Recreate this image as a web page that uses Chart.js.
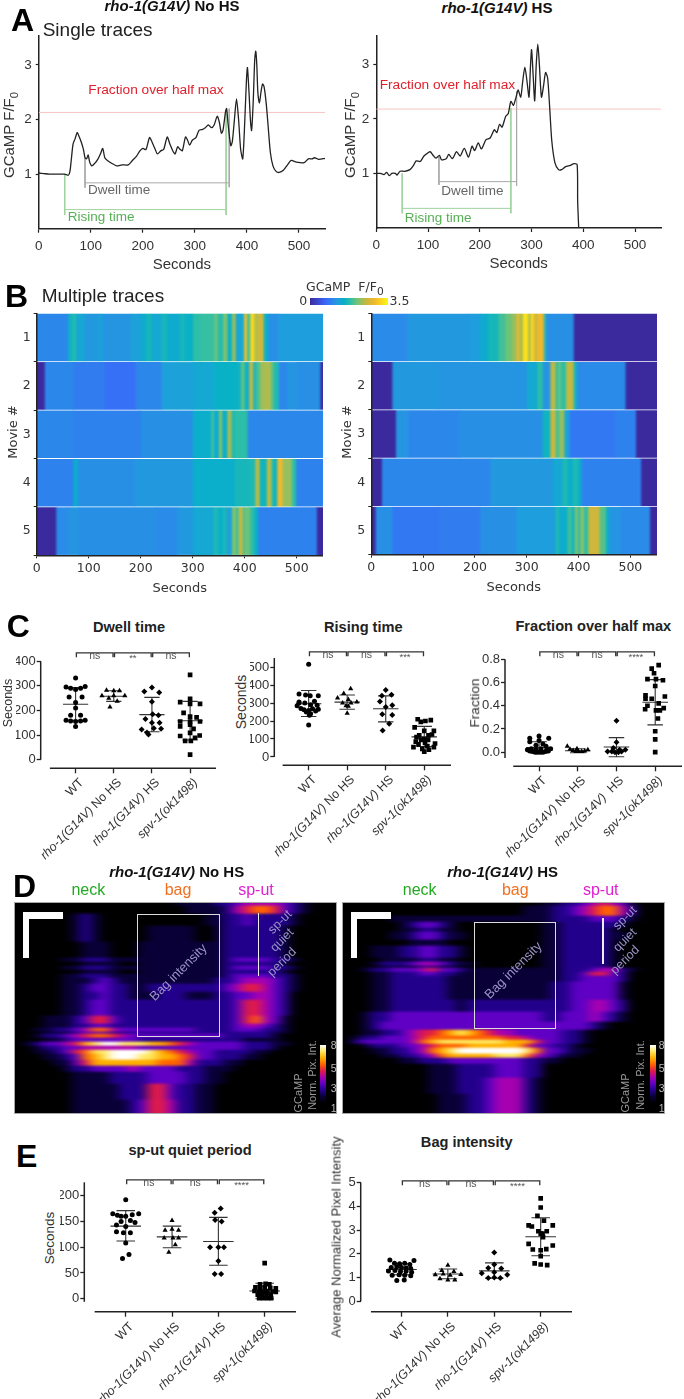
<!DOCTYPE html>
<html>
<head>
<meta charset="utf-8">
<script src="https://cdn.jsdelivr.net/npm/chart.js"></script>
<style>
  html, body { margin: 0; background: #fff; }
  #page { position: relative; width: 684px; height: 1399px; overflow: hidden; background: #fff; }
  canvas { position: absolute; }
  .box { position: absolute; box-sizing: border-box; }
</style>
</head>
<body>
<svg width="0" height="0" style="position:absolute">
  <filter id="soft" x="-5%" y="-5%" width="110%" height="110%" color-interpolation-filters="sRGB">
    <feGaussianBlur stdDeviation="5.5 1.3"/>
  </filter>
  <filter id="softRow" x="0" y="0" width="100%" height="100%" color-interpolation-filters="sRGB">
    <feGaussianBlur stdDeviation="1.3 0"/>
  </filter>
</svg>
<div id="page"></div>
<script>
// ---- panel A: single traces
const traceSecsA = [0,10,20,30,40,50,57,60,63,66,70,74,78,82,86,89,92,95,98,102,108,114,119,123,127,132,140,150,160,172,180,188,194,200,206,213,218,224,228,235,240,247,252,258,262,267,272,276,282,286,290,295,302,308,315,320,326,332,337,343,347,351,354,359,361,364,369,372,376,380,384,388,392,396,399,401,404,407,409,412,415,417,419,421,424,427,430,433,437,441,445,450,456,462,470,478,485,495,510,518,525,530,538,550];
const traceValsA = [1.02,1.01,1,1,1,1,.98,1.05,1.3,1.55,1.65,1.76,1.68,1.58,1.45,1.3,1.28,1.35,1.22,1.15,1.2,1.28,1.38,1.47,1.3,1.25,1.2,1.15,1.17,1.17,1.25,1.33,1.42,1.47,1.45,1.67,1.58,1.45,1.37,1.43,1.45,1.68,1.55,1.42,1.37,1.5,1.45,1.43,1.68,1.62,1.53,1.62,1.67,1.8,1.82,1.85,1.9,1.85,1.9,2.06,1.95,1.75,1.8,2.15,2.2,1.9,1.52,1.6,2,2.38,2,1.45,1.28,2,2.7,2.95,2.5,1.95,1.8,2.3,3.1,3.25,3,2.5,2.3,2.5,2.65,2.6,2.3,1.85,1.4,1.15,1.05,1.03,1.07,1.17,1.25,1.22,1.21,1.28,1.28,1.3,1.27,1.29];
const traceSecsB = [0,8,15,20,25,30,37,40,46,55,65,72,77,85,92,100,104,110,115,122,126,135,140,147,155,162,170,178,185,190,197,203,212,220,228,233,238,243,250,255,260,265,270,274,279,283,287,291,295,298,300,303,306,309,312,315,319,323,327,331,335,339,345,352,358,365,375,382,388,389,391];
const traceValsB = [1,1,.98,1.02,.96,1,1,.97,1.04,1.04,1.07,1.15,1.23,1.22,1.32,1.38,1.4,1.33,1.28,1.33,1.25,1.27,1.35,1.27,1.4,1.32,1.46,1.3,1.5,1.42,1.56,1.45,1.62,1.65,1.8,1.75,1.9,1.85,2.05,2.1,2.32,2.25,2.4,2.53,2.4,2.7,2.95,2.7,2.4,3,3.27,2.8,2.33,3,3.37,3,2.4,2.6,2.85,2.75,2.2,1.6,1.2,1.07,1.07,1.12,1.15,1.18,1.16,.5,0];
const secondTicks = [0,100,200,300,400,500];
const traceTicks = [1,2,3];
const halfMaxA = 2.13, halfMaxB = 2.18;
const dwellXA = [89,89,null,89,366,null,366,366], dwellYA = [1.3,.75,null,.84,.84,null,2.2,.76];
const riseXA = [50,50,null,50,360,null,360,360], riseYA = [1,.25,null,.35,.35,null,2.15,.25];
const dwellXB = [121,121,null,121,271,null,271,271], dwellYB = [1.3,.79,null,.85,.85,null,2.5,.77];
const riseXB = [50,50,null,50,260,null,260,260], riseYB = [1,.27,null,.36,.36,null,2.2,.27];

// ---- panel B: multiple traces, each movie is segment starts + F/F0 values
const movieLabels = ['1','2','3','4','5'];
const leftStarts1 = [0,60,68,75,90,120,125,180,200,210,220,240,250,275,285,300,315,340,348,358,366,375,382,392,398,404,410,418,424,436,445,465];
const leftVals1 = [1,1.6,1.75,1.4,1.2,1.4,1.15,1.3,1.45,1.65,1.4,1.65,1.45,1.65,1.55,1.8,1.85,2.05,1.75,2.2,1.55,2.35,1.35,1.4,2.95,1.85,3.2,2.4,2.6,1.5,1.1,1.25];
const leftStarts2 = [0,15,70,130,190,240,270,300,340,385,392,400,408,416,420,428,435,450,456,465,480,500,545];
const leftVals2 = [0,1,.9,.78,1,1.3,1.3,1.4,1.55,1.6,2,1.5,2.5,1.5,1.9,2.3,2.4,2,1.7,1,1.15,1.1,0];
const leftStarts3 = [0,70,200,300,335,340,350,356,366,374,380,405];
const leftVals3 = [1,.95,1.1,1.5,1.9,1.45,2.2,1.5,2.4,1.7,1.8,1];
const leftStarts4 = [0,70,78,190,300,380,408,420,428,442,450,453,462,472,490,498];
const leftVals4 = [.95,1.5,1.1,1.2,1.5,1.65,1.7,2.5,1.6,2.5,2,1.6,2.9,2.3,1.8,.95];
const leftStarts5 = [0,37,60,80,230,270,300,340,348,358,364,375,382,388,395,400,410,418,425,538];
const leftVals5 = [0,1.05,1.15,1.1,1.05,1.2,1.4,1.7,1.55,1.7,1.3,2.2,1.9,2.6,2,2.1,1.8,1.5,.95,0];
const rightStarts1 = [0,70,190,210,225,245,258,270,280,285,292,302,307,313,320,332,336,390];
const rightVals1 = [1.05,1.2,1.25,1.45,1.65,1.9,2.1,2.3,2.9,2.4,3.3,2.4,3.2,2.6,2.9,1.8,1.1,0];
const rightStarts2 = [0,40,130,300,320,330,345,355,360,365,375,390,396,490];
const rightVals2 = [0,1.2,1.15,1.4,1.8,1.15,2.5,1.8,2.1,1.8,2.5,1.6,1.05,0];
const rightStarts3 = [0,47,70,170,330,345,355,362,372,382,470,510];
const rightVals3 = [0,1.15,1,1.1,1.6,2.6,1.9,2.3,1.3,.85,.95,0];
const rightStarts4 = [0,20,230,350,368,378,388,398,405,520];
const rightVals4 = [0,1,1.2,1.4,1.7,1.5,1.7,1.5,.95,0];
const rightStarts5 = [0,8,40,130,210,280,355,362,370,378,386,392,398,402,410,418,440,452,458,480,537];
const rightVals5 = [0,1.1,.85,.9,1.1,1.25,1.7,1.45,1.5,1.9,1.6,2.2,1.7,2.2,1.8,2.6,2,1.5,1.15,1.05,0];

// ---- panel C: scatter with mean and SD
const groupNames = ['WT','rho-1(G14V) No HS','rho-1(G14V) HS','spv-1(ok1498)'];
const groupNames3 = ['WT','rho-1(G14V) No HS','rho-1(G14V)  HS','spv-1(ok1498)'];
const dwellX1 = [0,-.25,-.13,0,.13,.25,-.17,.17,0,0,-.13,.13,-.25,-.13,0,.13,.25,0];
const dwellY1 = [332,295,290,285,290,297,255,255,232,210,180,180,160,157,155,157,160,135];
const dwellX2 = [-.19,0,.15,-.31,.29,0,-.13,.09,-.1];
const dwellY2 = [282,280,280,260,260,260,250,237,214];
const dwellX3 = [0,-.2,.19,0,.02,.17,-.17,0,.2,-.27,-.13,.05,.24,-.09];
const dwellY3 = [293,277,273,235,185,180,165,150,150,122,110,128,125,102];
const dwellX4 = [0,0,-.26,.26,0,-.17,0,.17,-.26,0,.26,0,.09,-.26,0,-.26,.25,-.13,.02,.13,0];
const dwellY4 = [345,247,234,227,227,190,175,172,155,155,155,142,125,135,109,96,98,76,76,89,20];
const dwellMeans = [225,258,183,158], dwellLows = [160,237,113,80], dwellHighs = [293,280,253,237];
const riseX1 = [0,-.25,-.08,.04,.25,-.25,.15,-.1,.05,.22,-.3,-.2,.1,.25,-.12,0,.18,-.06,.05,.02,0,-.25];
const riseY1 = [515,350,345,340,340,305,310,300,290,288,285,270,268,265,262,258,255,250,240,232,178,300];
const riseX2 = [.09,-.09,-.25,.03,.25,-.12,.1,-.03,.03,0];
const riseY2 = [380,353,328,320,305,300,300,285,282,243];
const riseX3 = [0,-.1,.15,-.15,.17,0,-.09,.17,.09,-.08];
const riseY3 = [373,340,346,308,287,278,238,233,185,147];
const riseX4 = [-.17,-.09,.17,.03,-.25,0,.25,-.13,.11,-.2,0,.2,-.08,.1,-.22,.02,.28,-.15,.08,-.28,.25,-.05,.12,0];
const riseY4 = [210,195,205,200,165,145,145,120,120,110,100,125,95,95,85,80,75,70,60,55,55,45,40,30];
const riseMeans = [296,305,268,112], riseLows = [225,265,195,58], riseHighs = [370,345,340,170];
const fracX1 = [0,-.24,.25,-.08,.1,0,-.24,.18,-.3,-.24,-.17,-.1,-.04,.03,.1,.17,.24,.3,-.2,-.08,.05,.2];
const fracY1 = [.14,.12,.12,.06,.07,.1,.09,.05,.02,.01,.005,0,0,0,0,.005,.01,.03,.03,.02,.03,.02];
const fracX2 = [-.27,-.2,-.12,-.05,.02,.1,.18,.26,-.02];
const fracY2 = [.05,.025,.015,.005,.005,.005,.01,.02,.03];
const fracX3 = [0,0,-.08,.08,-.23,-.12,-.04,.05,.13,.23];
const fracY3 = [.27,.085,.035,.02,.005,.005,0,0,.005,.02];
const fracX4 = [.09,-.09,-.03,-.2,.02,.2,0,-.25,.25,-.25,-.09,.09,-.2,.22,-.26,.02,.12,.07,0,0,0];
const fracY4 = [.75,.72,.68,.63,.63,.62,.57,.49,.48,.46,.46,.42,.4,.38,.37,.36,.36,.29,.18,.11,0];
const fracMeans = [.04,.012,.045,.43], fracLows = [0,-.005,-.04,.235], fracHighs = [.09,.03,.125,.625];

// ---- panel E
const quietX1 = [0,-.28,-.18,-.1,0,.14,.28,-.1,.1,.2,-.2,0,-.2,-.05,.1,0,.07,-.07];
const quietY1 = [192,165,162,160,160,163,165,150,152,148,143,140,130,128,128,108,86,78];
const quietX2 = [0,-.15,0,.14,-.17,.02,.14,.07,-.07];
const quietY2 = [152,133,135,133,118,118,118,105,90];
const quietX3 = [.05,-.08,-.07,.07,-.18,0,.12,0,-.08,.06];
const quietY3 = [175,167,153,150,100,100,100,73,48,48];
const quietX4 = [0,-.1,.02,.1,-.2,-.1,0,.12,.24,-.22,-.12,-.03,.06,.17,.24,-.15,-.06,.04,.13,-.12,-.03,.06,.14];
const quietY4 = [69,28,29,28,22,21,22,21,20,15,14,14,15,14,13,8,8,8,8,1,1,1,1];
const quietMeans = [141,120,111,15], quietLows = [112,99,65,0], quietHighs = [171,141,158,30];
const bagX1 = [-.25,.27,-.15,-.04,.07,.18,-.22,-.1,0,.1,.2,-.28,-.14,-.02,.1,.22,-.2,-.05,.07,.2,-.1,.06];
const bagY1 = [1.74,1.72,1.6,1.58,1.6,1.55,1.42,1.45,1.42,1.4,1.38,1.28,1.3,1.25,1.27,1.22,1.1,1.12,1.1,1.08,.88,.9];
const bagX2 = [0,-.13,.13,-.27,-.1,.05,.28,-.17,0,.15];
const bagY2 = [1.52,1.3,1.25,1.12,1.15,1.1,1.13,.95,.9,.9];
const bagX3 = [0,0,-.13,.15,-.27,0,.28,-.13,0,.13];
const bagY3 = [2.05,1.55,1.4,1.38,1.18,1.22,1.12,.98,1,.98];
const bagX4 = [0,0,-.07,.07,-.26,-.19,.26,-.05,.04,.13,0,.05,-.26,.26,-.17,0,.12,0,-.13,0,.14];
const bagY4 = [4.33,3.95,3.6,3.4,3.2,3.15,3.2,2.95,2.85,2.95,2.85,2.7,2.42,2.35,2.18,2.15,2.2,1.9,1.6,1.55,1.52];
const bagMeans = [1.34,1.15,1.28,2.72], bagLows = [1.12,.95,.97,1.92], bagHighs = [1.58,1.36,1.62,3.52];

// ---- panel D: kymographs, pixel level per column; each row is repeated rowRepeat times
const kymoLeftRepeat = [5,4,6,8,8,2,2,2,2,2,3,4,4,8,4,2,2,1,2,2,2,2,2,3,3,3,6,8,10];
const kymoLeft = [
[0,0,0,0,0,0,0,0,0,0,0,0,0,0,0,0,0,1,1,1,1,2,2,3,4,4,4,4,3,2,1],
[0,0,0,0,0,0,0,0,0,0,0,0,0,0,0,0,0,0,1,1,1,1,2,4,5,6,6,5,3,2,1],
[0,0,0,0,0,0,1,2,1,0,0,0,0,0,0,0,0,0,0,0,1,1,2,2,3,2,2,2,2,1],
[0,0,0,0,0,0,1,2,1,0,0,0,0,0,1,1,1,1,1,0,0,1,2,2,2,2,2,2,1],
[0,0,0,0,0,0,0,1,1,1,0,0,0,1,1,1,1,1,1,1,1,1,2,2,2,2,2,2,1],
[0,0,0,0,0,1,1,2,2,2,1,1,1,1,1,1,1,1,1,1,1,1,2,3,3,3,3,2,2,1],
[0,0,0,0,0,0,0,1,1,1,1,0,0,1,1,1,1,1,1,1,1,1,2,2,2,2,2,2,1],
[0,0,0,0,0,1,1,2,2,2,1,1,1,1,1,1,1,1,1,1,1,1,2,3,3,3,3,2,2,1],
[0,0,0,0,0,0,0,1,1,1,1,0,0,1,1,1,1,1,1,1,1,1,2,2,2,2,2,2,1],
[0,0,0,0,0,1,1,2,2,2,1,1,1,1,1,1,1,1,1,1,1,1,2,3,3,3,3,2,2,1],
[0,0,0,0,0,1,1,1,2,3,2,1,1,1,1,1,1,1,1,1,1,2,2,3,4,4,4,3,2,1],
[0,0,0,0,0,1,1,2,3,3,2,2,1,1,2,2,2,2,2,2,2,2,3,4,5,5,4,3,2,1],
[0,0,0,0,0,1,1,2,2,3,2,2,1,1,1,2,2,2,1,1,1,2,2,3,3,4,4,3,2],
[0,0,0,0,0,1,1,2,3,3,2,2,2,2,2,2,2,2,2,2,2,2,2,3,5,5,4,3,2],
[0,0,0,1,1,1,2,3,5,5,3,2,2,2,2,2,2,2,2,2,2,2,2,3,5,6,4,3,1],
[0,0,0,1,1,1,2,2,3,3,2,2,2,2,2,2,2,2,2,2,2,2,2,3,4,4,3,2,1],
[0,0,1,1,2,2,3,4,6,6,4,3,3,3,3,3,3,3,3,2,2,2,2,3,3,3,2,2,1],
[0,0,0,1,1,1,2,3,3,3,2,2,2,2,2,2,2,2,2,2,2,2,2,2,2,2,2,1,1],
[0,0,1,2,2,3,4,5,6,6,5,4,3,3,3,3,3,3,3,3,3,3,2,2,2,2,2,1],
[0,0,0,1,1,2,3,3,3,3,3,3,3,2,2,2,2,2,2,2,2,2,2,2,1,1,1,1],
[0,1,2,3,3,4,5,7,8,9,9,8,8,8,7,7,6,5,4,3,3,3,3,3,2,2,2,1,1],
[0,0,1,2,2,3,3,4,4,4,4,4,4,3,3,3,3,3,3,3,3,3,3,3,2,2,2,1],
[0,0,1,1,2,3,5,6,8,8,9,9,9,9,8,7,6,5,4,3,3,2,2,2,2,1,1],
[0,0,0,1,1,2,3,6,7,8,9,9,9,8,8,7,7,6,5,3,3,2,2,2,1,1],
[0,0,0,0,1,1,3,5,7,7,7,7,7,7,7,6,6,6,4,2,2,2,1,1],
[0,0,0,0,0,1,2,2,3,3,3,3,4,3,3,3,3,2,2,2,1,1,1],
[0,0,0,0,0,0,1,1,1,1,2,2,2,2,3,3,3,3,2,2,1,1],
[0,0,0,0,0,0,1,1,1,1,1,2,2,2,5,5,3,2,2,1,1],
[0,0,0,0,0,0,1,1,1,1,1,1,2,3,5,5,4,2,2,1,1]
];
const kymoRightRepeat = [5,5,3,3,2,4,3,6,2,2,1,2,2,3,9,6,5,4,3,2,2,2,3,2,3,7,8,13];
const kymoRight = [
[0,0,0,0,0,0,0,0,0,0,0,0,0,0,0,0,0,0,0,0,0,1,1,2,2,3,4,5,4,3,1],
[0,0,0,0,0,0,0,0,0,0,0,0,0,0,0,0,0,0,0,1,1,1,2,2,3,4,5,6,6,4,2],
[0,0,0,0,0,1,1,1,1,1,1,1,1,1,1,1,1,1,1,1,1,1,2,2,2,2,3,3,3,2,1],
[0,0,0,0,0,0,1,2,3,3,2,1,0,0,0,0,0,0,0,0,0,1,1,2,2,2,2,2,2,1],
[0,0,0,0,0,0,1,1,2,2,1,1,0,0,0,0,0,0,0,0,0,1,1,2,2,2,2,2,1],
[0,0,0,0,0,1,1,2,3,3,2,1,1,0,0,0,0,0,0,0,0,1,1,2,2,2,2,2,1,1],
[0,0,0,0,0,0,0,1,1,1,1,0,0,0,0,0,0,0,0,0,0,1,1,2,2,2,2,2,1],
[0,0,0,1,1,1,2,2,3,3,2,2,1,0,0,0,0,0,0,0,0,1,1,2,2,2,2,2,1],
[0,0,0,0,1,1,1,1,2,2,1,1,0,0,0,0,0,0,0,0,0,1,1,2,2,2,2,2,1],
[0,0,0,1,2,2,2,3,4,4,3,2,1,1,0,0,0,0,0,0,0,1,1,2,2,2,2,2,1],
[0,0,0,0,1,1,1,1,2,2,1,1,0,0,0,0,0,0,0,0,0,1,1,2,2,2,2,2,1],
[0,0,1,2,2,3,3,3,4,5,3,3,2,1,1,1,1,1,1,1,1,1,1,2,2,2,3,4,4,2,1],
[0,0,0,1,1,2,2,2,3,3,2,2,1,1,1,1,1,1,1,1,1,1,1,2,2,3,5,5,3,2],
[0,0,0,1,1,2,2,2,2,2,2,1,1,1,1,1,1,1,1,1,1,1,1,2,2,3,3,3,3,2],
[0,0,0,1,1,2,2,2,2,2,2,1,1,1,1,1,1,1,1,1,1,1,2,2,3,3,3,3,3,1],
[0,0,0,1,1,2,2,2,2,2,2,2,1,2,2,2,2,2,2,2,2,2,2,2,3,3,4,4,3,2],
[0,0,1,2,2,3,3,3,3,3,3,3,3,3,3,3,3,3,3,3,3,2,2,3,3,3,4,3,2,1],
[0,0,1,2,3,3,3,3,3,3,3,3,3,3,3,3,3,3,3,3,3,3,3,3,3,3,2,1],
[0,0,1,1,2,2,3,4,5,5,6,7,8,7,6,5,4,4,3,3,3,3,3,2,2,1],
[0,1,2,2,3,3,3,4,5,6,6,6,6,6,6,6,6,5,5,4,3,3,3,2,2,1],
[0,2,3,3,3,3,3,4,6,7,8,8,8,8,8,8,8,7,7,7,5,3,3,2,2,1],
[0,0,1,2,2,2,3,3,4,5,6,6,6,7,7,7,7,7,7,5,3,3,2,2,1],
[0,0,0,1,1,2,2,3,4,6,7,8,9,9,9,9,9,9,9,8,6,3,3,2,1,1],
[0,0,0,0,1,1,2,2,3,4,6,7,7,7,7,7,8,8,8,6,4,3,2,1,1],
[0,0,0,0,0,0,1,1,2,2,2,3,3,3,3,3,3,3,3,2,2,1,1],
[0,0,0,0,0,0,0,0,0,1,1,1,2,2,2,2,3,3,3,2,2],
[0,0,0,0,0,0,0,0,0,1,1,1,2,2,2,3,4,4,4,2,1],
[0,0,0,0,0,0,0,0,0,0,1,1,1,2,2,3,4,4,4,2,1]
];

// ---- colours
const parulaStops = ['#3b2a9e','#3a68fb','#2d85ec','#1f9fdc','#08b0c8','#2fbfa5','#7dc36f','#c4b83f','#f0b52e','#fcd91e','#f9f90f'];
const parulaAt = [0,.2,.28,.36,.44,.52,.62,.72,.82,.92,1];
const fireStops = ['#000000','#0a0038','#24008c','#6000c4','#a800b0','#e01c48','#ff6400','#ffb000','#ffe860','#ffffff'];

const page = document.getElementById('page');
const SANS = '"Liberation Sans"', VERD = '"DejaVu Sans"';
Chart.defaults.animation = false;
Chart.defaults.responsive = false;
Chart.defaults.font.family = SANS;
Chart.defaults.plugins.legend.display = false;
Chart.defaults.plugins.tooltip.enabled = false;

function parula(v) {
  const t = Math.min(v / 3.5, 1);
  let i = 0;
  while (i < parulaAt.length - 2 && t > parulaAt[i + 1]) i++;
  const f = (t - parulaAt[i]) / (parulaAt[i + 1] - parulaAt[i]);
  const rgb = c => [1, 3, 5].map(k => parseInt(c.substr(k, 2), 16));
  const a = rgb(parulaStops[i]), b = rgb(parulaStops[i + 1]);
  return 'rgb(' + a.map((x, k) => Math.round(x + (b[k] - x) * f)).join(',') + ')';
}

// text: x,y is baseline start (or centre with rot / center)
function put(html, x, y, o = {}) {
  const size = o.size || 13;
  const e = document.createElement('div');
  e.innerHTML = html;
  e.style.cssText = 'position:absolute;white-space:pre;z-index:5;font:' + (o.style || 'normal') + ' ' + (o.weight || 'normal') + ' ' + size + 'px/1 ' + (o.family || SANS) + ';color:' + (o.color || '#333') + ';left:' + x + 'px;';
  if (o.rot !== undefined) {
    e.style.top = y + 'px';
    e.style.transform = 'translate(-50%,-50%) rotate(' + o.rot + 'deg)';
  } else {
    e.style.top = (y - .85 * size) + 'px';
    if (o.center) e.style.transform = 'translateX(-50%)';
  }
  page.appendChild(e);
  return e;
}
function rect(x, y, w, h, css) {
  const e = document.createElement('div');
  e.className = 'box';
  e.style.cssText += 'left:' + x + 'px;top:' + y + 'px;width:' + w + 'px;height:' + h + 'px;z-index:4;' + css;
  page.appendChild(e);
}
// canvas placed so that the plot area lands on l,t,r,b
function pinned(l, t, r, b, m) {
  const left = Math.floor(l - m.l), top = Math.floor(t - m.t);
  const c = document.createElement('canvas');
  c.width = Math.ceil(r + m.r - left);
  c.height = Math.ceil(b + m.b - top);
  c.style.left = left + 'px';
  c.style.top = top + 'px';
  page.appendChild(c);
  return { c, yw: l - left, xh: c.height - (b - top), padding: { top: t - top, right: c.width - (r - left), left: 0, bottom: 0 } };
}
// fixed axis box, no extra room for overhanging labels
const fitX = a => s => { s.height = a.xh; s.paddingLeft = s.paddingRight = 0; };
const fitY = a => s => { s.width = a.yw; s.paddingTop = s.paddingBottom = 0; };
const xy = (xs, ys) => xs.map((x, i) => ({ x: x, y: ys[i] }));
const setTicks = vals => s => { s.ticks = vals.map(v => ({ value: v })); };

function traceChart(p, secs, vals, half, dX, dY, rX, rY) {
  const a = pinned(p.l, p.t, p.r, p.b, { l: 24, t: 4, r: 6, b: 44.7 });
  const line = (data, color, width) => ({ data: data, showLine: true, borderColor: color, borderWidth: width, pointRadius: 0, tension: 0 });
  new Chart(a.c, {
    type: 'scatter',
    data: { datasets: [
      Object.assign(line(xy(secs, vals), '#222', 1.3), { tension: .25 }),
      line(xy(dX, dY), '#a9a9a9', 1),
      line(xy(rX, rY), '#9fd39f', 1),
      line(xy([0, 550], [half, half]), '#f5c3c3', 1)
    ] },
    options: {
      layout: { padding: a.padding },
      scales: {
        x: { type: 'linear', min: 0, max: 550, afterFit: fitX(a), afterBuildTicks: setTicks(secondTicks),
          border: { color: '#222', width: 1.5 }, grid: { drawOnChartArea: false, tickLength: 4, color: '#222', tickWidth: 1.2 },
          ticks: { color: '#333', font: { size: 13.5 }, padding: 5, maxRotation: 0 },
          title: { display: true, text: 'Seconds', color: '#333', font: { size: 15 }, padding: 0 } },
        y: { type: 'linear', min: 0, max: p.top, afterFit: fitY(a), afterBuildTicks: setTicks(traceTicks),
          border: { color: '#222', width: 1.5 }, grid: { drawOnChartArea: false, tickLength: 3, color: '#222', tickWidth: 1.2 },
          ticks: { color: '#333', font: { size: 13.5 }, padding: 4 } }
      }
    }
  });
}

// two canvases on the same box: softened colour rows below, crisp axes above
function movieChart(p, rows) {
  const n = Math.max(...rows.map(r => r.starts.length));
  const datasets = [];
  for (let i = 0; i < n; i++) {
    datasets.push({
      // outer segments run past the plot so the softening has colour to read at the edges
      data: rows.map(r => i < r.starts.length ? [i === 0 ? -20 : r.starts[i], i + 1 < r.starts.length ? r.starts[i + 1] : 575] : null),
      backgroundColor: rows.map(r => i < r.vals.length ? parula(r.vals[i]) : '#fff'),
      grouped: false, barPercentage: 1, categoryPercentage: .97, inflateAmount: .33, borderWidth: 0, clip: false
    });
  }
  const make = (sets, show) => {
    const a = pinned(p.l, p.t, p.r, p.b, { l: 26, t: 2, r: show ? 3 : 16, b: 40 });
    const ink = show ? '#333' : 'transparent', rule = show ? '#222' : 'transparent';
    if (!show) {
      a.c.style.filter = 'url(#softRow)';
      a.c.style.clipPath = 'inset(0 ' + a.padding.right + 'px 0 ' + a.yw + 'px)';
    }
    new Chart(a.c, {
      type: 'bar',
      data: { labels: movieLabels, datasets: sets },
      options: {
        indexAxis: 'y',
        layout: { padding: a.padding },
        scales: {
          x: { type: 'linear', min: 0, max: 550, afterFit: fitX(a), afterBuildTicks: setTicks(secondTicks),
            border: { color: rule, width: 1.5 }, grid: { drawOnChartArea: false, tickLength: 3, color: rule },
            ticks: { color: ink, font: { size: 12.5, family: VERD }, padding: 3, maxRotation: 0 },
            title: { display: true, text: 'Seconds', color: ink, font: { size: 13, family: VERD }, padding: 0 } },
          y: { type: 'category', afterFit: fitY(a),
            border: { color: rule, width: 1.5 }, grid: { drawOnChartArea: false, tickLength: 3, color: rule },
            ticks: { color: ink, font: { size: 12.5, family: VERD }, padding: 3 } }
        }
      }
    });
  };
  make(datasets, false);
  make([], true);
}

function kymo(left, top, width, height, repeat, levels) {
  const wrap = document.createElement('div');
  wrap.className = 'box';
  wrap.style.cssText += 'left:' + left + 'px;top:' + top + 'px;width:' + width + 'px;height:' + height + 'px;background:#000;overflow:hidden;';
  page.appendChild(wrap);
  const c = document.createElement('canvas');
  c.width = Math.round(width);
  c.height = Math.round(height) + 12;
  c.style.cssText = 'left:0;top:-6px;filter:url(#soft);';
  wrap.appendChild(c);
  const rows = [];
  repeat.forEach((k, i) => { for (let j = 0; j < k; j++) rows.push(levels[i]); });
  const cols = 34, datasets = [];
  for (let i = 0; i < cols; i++) {
    datasets.push({
      data: rows.map(() => [i, i + 1]),
      backgroundColor: rows.map(r => fireStops[r[i] || 0]),
      grouped: false, barPercentage: 1, categoryPercentage: 1, borderWidth: 0
    });
  }
  new Chart(c, {
    type: 'bar',
    data: { labels: rows.map((r, i) => i), datasets: datasets },
    options: { indexAxis: 'y', scales: {
      x: { type: 'linear', min: 0, max: cols, display: false },
      y: { type: 'category', display: false }
    } }
  });
  rect(left, top, width, height, 'border:1px solid #a8a8a8;');
}

function statPanel(p) {
  const a = pinned(p.l, p.bracketPx - 4, p.r, p.lineY, { l: 24, t: 0, r: 2, b: 8 });
  const unit = (p.y0 - p.yRef) / p.refVal;
  const yAt = px => (p.y0 - px) / unit;
  const xAt = px => (px - p.x0) / p.dx;
  const styles = ['circle', 'triangle', 'rectRot', 'rect'];
  const radii = [2.5, 3, 3, 3.3];
  const ln = (data, w, color) => ({ data: data, showLine: true, pointRadius: 0, borderWidth: w, borderColor: color || '#222', clip: false, order: 1, tension: 0 });
  const datasets = p.groups.map((g, i) => ({
    data: g.x.map((x, k) => ({ x: i + x, y: g.y[k] })),
    pointStyle: styles[i], pointRadius: radii[i], backgroundColor: '#000', borderWidth: 0, showLine: false, order: 0
  }));
  // mean and SD
  const bars = [];
  p.means.forEach((m, i) => {
    bars.push({ x: i - .33, y: m }, { x: i + .33, y: m }, { x: null, y: null });
    bars.push({ x: i, y: p.lows[i] }, { x: i, y: p.highs[i] }, { x: null, y: null });
    bars.push({ x: i - .2, y: p.lows[i] }, { x: i + .2, y: p.lows[i] }, { x: null, y: null });
    bars.push({ x: i - .2, y: p.highs[i] }, { x: i + .2, y: p.highs[i] }, { x: null, y: null });
  });
  datasets.push(ln(bars, 1.1, '#333'));
  // significance brackets
  const top = yAt(p.bracketPx), drop = yAt(p.bracketPx + 4.5);
  const br = [];
  [0, 1, 2].forEach(i => {
    br.push({ x: i + .02, y: drop }, { x: i + .02, y: top }, { x: i + .98, y: top }, { x: i + .98, y: drop }, { x: null, y: null });
  });
  datasets.push(ln(br, 1.3, '#333'));
  // axis lines
  datasets.push(ln([{ x: xAt(p.l), y: p.axisBot }, { x: xAt(p.l), y: p.axisTop }], 1.5));
  datasets.push(ln([{ x: xAt(p.lineL), y: yAt(p.lineY) }, { x: xAt(p.r), y: yAt(p.lineY) }], 1.5));

  const chart = new Chart(a.c, {
    type: 'scatter',
    data: { datasets: datasets },
    options: {
      layout: { padding: a.padding },
      scales: {
        x: { type: 'linear', min: xAt(p.l), max: xAt(p.r), afterFit: fitX(a), afterBuildTicks: setTicks([0, 1, 2, 3]),
          border: { display: false }, grid: { drawOnChartArea: false, tickLength: 5, color: '#222', tickWidth: 1.3 }, ticks: { display: false } },
        y: { type: 'linear', min: yAt(p.lineY), max: yAt(p.bracketPx - 4), afterFit: fitY(a), afterBuildTicks: setTicks(p.ticks),
          border: { display: false }, grid: { drawOnChartArea: false, tickLength: 4, color: '#222', tickWidth: 1.3 },
          ticks: { color: '#333', font: { size: 13 }, padding: 1, callback: v => p.dec ? v.toFixed(p.dec) : v } }
      }
    }
  });
  // tick names and bracket marks come off the chart's scales
  const cLeft = parseFloat(a.c.style.left);
  p.names.forEach((name, i) => {
    const html = name.replace(/(\S+\(\S+\))/, '<i>$1</i>');
    const e = put(html, cLeft + chart.scales.x.getPixelForValue(i) + 1, p.lineY + 8, { size: 12.4 });
    e.style.top = (p.lineY + 8) + 'px';
    e.style.transformOrigin = '100% 0';
    e.style.transform = 'translateX(-100%) rotate(-45deg)';
  });
  p.marks.forEach((m, i) => {
    const px = cLeft + chart.scales.x.getPixelForValue(i + .5);
    put(m, px, p.bracketPx + (m === 'ns' ? 10 : 12), { size: m === 'ns' ? 10.5 : 9.5, center: true, color: '#555' });
  });
}

// ---- A
const panelA1 = { l: 38.7, t: 36, r: 325, b: 228.7, top: 3.53 };
const panelA2 = { l: 376.3, t: 36, r: 661, b: 228, top: 3.52 };
traceChart(panelA1, traceSecsA, traceValsA, halfMaxA, dwellXA, dwellYA, riseXA, riseYA);
traceChart(panelA2, traceSecsB, traceValsB, halfMaxB, dwellXB, dwellYB, riseXB, riseYB);
const F0 = 'GCaMP F/F<sub style="font-size:.75em;line-height:0">0</sub>';
put('A', 11, 31.5, { size: 32, weight: 'bold', color: '#000' });
put('Single traces', 42.7, 36, { size: 19, color: '#222' });
put('<i>rho-1(G14V)</i> No HS', 172, 11, { size: 15, weight: 'bold', center: true, color: '#111' });
put('<i>rho-1(G14V)</i> HS', 497, 12.5, { size: 15, weight: 'bold', center: true, color: '#111' });
put(F0, 8, 135, { size: 15, rot: -90 });
put(F0, 349, 135, { size: 15, rot: -90 });
put('Fraction over half max', 88.3, 94.5, { size: 13.7, color: '#e0202c' });
put('Dwell time', 88, 194.5, { size: 13.5, color: '#666' });
put('Rising time', 67.7, 221.7, { size: 13.5, color: '#55b055' });
put('Fraction over half max', 379.7, 90, { size: 13.7, color: '#e0202c' });
put('Dwell time', 441.3, 195.3, { size: 13.5, color: '#666' });
put('Rising time', 404.7, 222.7, { size: 13.5, color: '#55b055' });

// ---- B
movieChart({ l: 36.7, t: 313.3, r: 322.7, b: 555.3 }, [
  { starts: leftStarts1, vals: leftVals1 }, { starts: leftStarts2, vals: leftVals2 }, { starts: leftStarts3, vals: leftVals3 },
  { starts: leftStarts4, vals: leftVals4 }, { starts: leftStarts5, vals: leftVals5 }]);
movieChart({ l: 371.3, t: 313.3, r: 656.3, b: 554.7 }, [
  { starts: rightStarts1, vals: rightVals1 }, { starts: rightStarts2, vals: rightVals2 }, { starts: rightStarts3, vals: rightVals3 },
  { starts: rightStarts4, vals: rightVals4 }, { starts: rightStarts5, vals: rightVals5 }]);
put('B', 5, 307, { size: 32, weight: 'bold', color: '#000' });
put('Multiple traces', 41.7, 301.7, { size: 19, color: '#222' });
put('Movie #', 12.3, 431.7, { size: 13, rot: -90, family: VERD });
put('Movie #', 346, 431.7, { size: 13, rot: -90, family: VERD });
put('GCaMP  F/F<sub style="font-size:.85em;line-height:0">0</sub>', 306, 291.7, { size: 12.5, family: VERD });
rect(310, 298, 77.7, 7.3, 'background:linear-gradient(90deg,' + parulaStops.map((c, i) => c + ' ' + parulaAt[i] * 100 + '%').join(',') + ');');
put('0', 303.3, 305.5, { size: 12.5, center: true, family: VERD });
put('3.5', 389.5, 305.5, { size: 12.5, family: VERD });

// ---- C
put('C', 6.7, 636.7, { size: 32, weight: 'bold', color: '#000' });
put('Dwell time', 129, 632.7, { size: 14.6, weight: 'bold', center: true, color: '#222' });
put('Rising time', 363.3, 632, { size: 14.6, weight: 'bold', center: true, color: '#222' });
put('Fraction over half max', 593.3, 631.7, { size: 14.6, weight: 'bold', center: true, color: '#222' });
put('Seconds', 8, 703, { size: 12.5, rot: -90 });
put('Seconds', 241, 701.7, { size: 14, rot: -90 });
put('Fraction', 474.7, 702.7, { size: 13.6, rot: -90 });
statPanel({ l: 40.7, r: 218, lineL: 50, lineY: 768.3, x0: 76, dx: 38.6, y0: 759.3, yRef: 657.7, refVal: 400, axisTop: 400, axisBot: 0, bracketPx: 649, ticks: [0,100,200,300,400], names: groupNames, marks: ['ns','**','ns'], means: dwellMeans, lows: dwellLows, highs: dwellHighs,
  groups: [{ x: dwellX1, y: dwellY1 }, { x: dwellX2, y: dwellY2 }, { x: dwellX3, y: dwellY3 }, { x: dwellX4, y: dwellY4 }] });
statPanel({ l: 274.3, r: 452.7, lineL: 282.7, lineY: 765.3, x0: 309, dx: 38.9, y0: 756.7, yRef: 663.7, refVal: 500, axisTop: 550, axisBot: 0, bracketPx: 648, ticks: [0,100,200,300,400,500], names: groupNames, marks: ['ns','ns','***'], means: riseMeans, lows: riseLows, highs: riseHighs,
  groups: [{ x: riseX1, y: riseY1 }, { x: riseX2, y: riseY2 }, { x: riseX3, y: riseY3 }, { x: riseX4, y: riseY4 }] });
statPanel({ l: 505, r: 683.3, lineL: 513.3, lineY: 766.3, x0: 539.3, dx: 39, y0: 751.7, yRef: 655.7, refVal: .8, axisTop: .8, axisBot: -.05, bracketPx: 648, dec: 1, ticks: [0,.2,.4,.6,.8], names: groupNames3, marks: ['ns','ns','****'], means: fracMeans, lows: fracLows, highs: fracHighs,
  groups: [{ x: fracX1, y: fracY1 }, { x: fracX2, y: fracY2 }, { x: fracX3, y: fracY3 }, { x: fracX4, y: fracY4 }] });

// ---- D
kymo(14, 902, 323.3, 212, kymoLeftRepeat, kymoLeft);
kymo(342, 902, 323.3, 212, kymoRightRepeat, kymoRight);
put('D', 13, 896.7, { size: 32, weight: 'bold', color: '#000' });
put('<i>rho-1(G14V)</i> No HS', 176.7, 876.7, { size: 15, weight: 'bold', center: true, color: '#111' });
put('<i>rho-1(G14V)</i> HS', 502.7, 876.7, { size: 15, weight: 'bold', center: true, color: '#111' });
const regionColors = ['#22aa22', '#f07020', '#e020d0'];
['neck','bag','sp-ut'].forEach((t, i) => {
  put(t, [88.3,178,256][i], 895.7, { size: 16, center: true, color: regionColors[i] });
  put(t, [419.7,515.3,600.7][i], 895.7, { size: 16, center: true, color: regionColors[i] });
});
const fireBar = 'background:linear-gradient(0deg,' + fireStops.join(',') + ');';
[[14, 137.3, 913.7, 82.4, 123.3, 258.3, 913, 62.7, 320, 330.7, 297.7, 311.7, [840,290], [845,345], [845,412], [178.3,971.7]],
 [342, 473.7, 922.3, 82.3, 106.4, 603, 918.3, 45.7, 649.7, 658.7, 625.3, 640, [848,280], [848,345], [848,405], [512.7,970]]].forEach((d, i) => {
  const x0 = d[0], off = i ? 342 : 0;
  rect(d[1], d[2], d[3], d[4], 'border:1.3px solid #dcdcdc;');
  rect(d[5] - .8, d[6], 1.6, d[7], 'background:#eee;');
  rect(x0 + 9, 912.3, 6.3, 45.4, 'background:#fff;');
  rect(x0 + 15.3, 912.3, 33.4, 6.7, 'background:#fff;');
  put('sp-ut', off + d[12][0] / 3, 825 + d[12][1] / 3, { size: 12.5, rot: -45, color: '#9a96c8' });
  put('quiet', off + d[13][0] / 3, 825 + d[13][1] / 3, { size: 12.5, rot: -45, color: '#9a96c8' });
  put('period', off + d[14][0] / 3, 825 + d[14][1] / 3, { size: 12.5, rot: -45, color: '#9a96c8' });
  put('Bag intensity', d[15][0], d[15][1], { size: 13, rot: -45, color: '#9c93c9' });
  rect(d[8], 1045, 6, 58, fireBar);
  [['8',1045],['5',1067.5],['3',1087.5],['1',1107.5]].forEach(t => put(t[0], d[9], t[1] + 4, { size: 10.5, color: '#bbb' }));
  put('GCaMP', d[10], 1093, { size: 11, rot: -90, color: '#999' });
  put('Norm. Pix. Int.', d[11], 1075, { size: 11, rot: -90, color: '#999' });
});

// ---- E
put('E', 16, 1166.7, { size: 32, weight: 'bold', color: '#000' });
put('sp-ut quiet period', 190, 1155, { size: 14.6, weight: 'bold', center: true, color: '#222' });
put('Bag intensity', 466.7, 1147.3, { size: 14.6, weight: 'bold', center: true, color: '#222' });
put('Seconds', 50, 1238, { size: 13.5, rot: -90 });
put('Average Normalized Pixel Intensity', 335.7, 1237.3, { size: 13, rot: -90 });
statPanel({ l: 84.3, r: 297.3, lineL: 94.7, lineY: 1311.7, x0: 126, dx: 46.6, y0: 1298.3, yRef: 1192.3, refVal: 200, axisTop: 226, axisBot: -6, bracketPx: 1176, ticks: [0,50,100,150,200], names: groupNames, marks: ['ns','ns','****'], means: quietMeans, lows: quietLows, highs: quietHighs,
  groups: [{ x: quietX1, y: quietY1 }, { x: quietX2, y: quietY2 }, { x: quietX3, y: quietY3 }, { x: quietX4, y: quietY4 }] });
statPanel({ l: 360.7, r: 573.3, lineL: 371, lineY: 1311.7, x0: 401.7, dx: 46.7, y0: 1301, yRef: 1178.7, refVal: 5, axisTop: 5, axisBot: 0, bracketPx: 1177, ticks: [0,1,2,3,4,5], names: groupNames, marks: ['ns','ns','****'], means: bagMeans, lows: bagLows, highs: bagHighs,
  groups: [{ x: bagX1, y: bagY1 }, { x: bagX2, y: bagY2 }, { x: bagX3, y: bagY3 }, { x: bagX4, y: bagY4 }] });
</script>
</body>
</html>
